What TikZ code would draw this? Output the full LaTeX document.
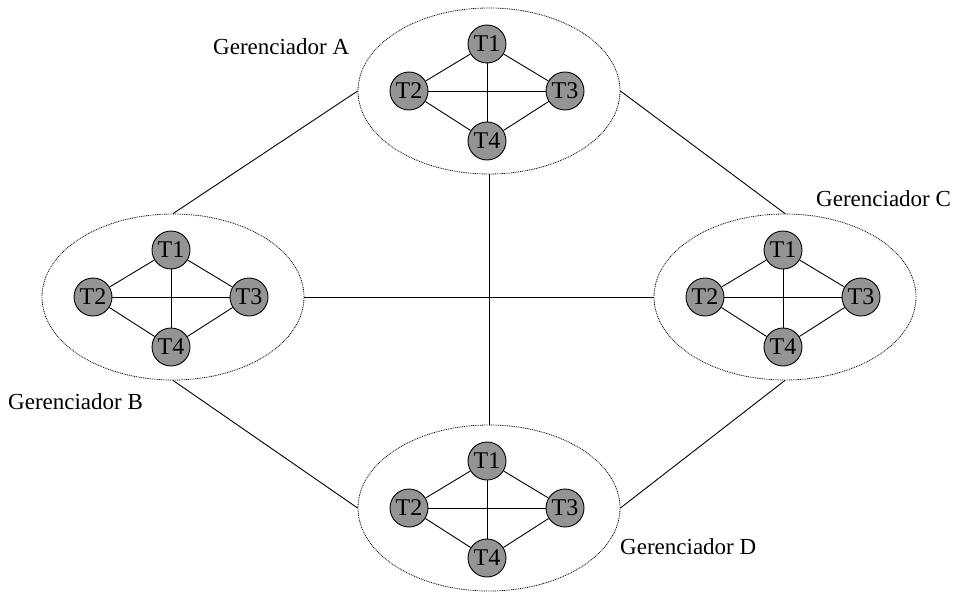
\documentclass[tikz,border=0pt]{standalone}
\usepackage{fontspec}
\setmainfont{Liberation Serif}
\usetikzlibrary{shapes.geometric,calc}
\tikzset{
  group/.style={ellipse, draw, dash pattern=on 0.9pt off 0.9pt, line width=0.8pt, minimum width=262pt, minimum height=166pt, inner sep=0pt},
  task/.style={circle, draw, line width=0.9pt, fill=black!42, minimum size=38pt, inner sep=0pt, font=\fontsize{24}{24}\selectfont},
  link/.style={line width=0.9pt},
  lbl/.style={font=\fontsize{23}{23}\selectfont, inner sep=0pt}
}
\newcommand\mycluster[3]{%
  \node[group] (#1) at (#2,#3) {};
  \node[task] (#1t1) at ($(#2,#3)+(-2,-47)$) {T1};
  \node[task] (#1t2) at ($(#2,#3)+(-80,0)$) {T2};
  \node[task] (#1t3) at ($(#2,#3)+(76,0)$) {T3};
  \node[task] (#1t4) at ($(#2,#3)+(-2,50)$) {T4};
  \draw[link] (#1t1) -- (#1t2);
  \draw[link] (#1t1) -- (#1t3);
  \draw[link] (#1t2) -- (#1t3);
  \draw[link] (#1t1) -- (#1t4);
  \draw[link] (#1t2) -- (#1t4);
  \draw[link] (#1t3) -- (#1t4);
}
\begin{document}
\begin{tikzpicture}[x=1pt,y=-1pt]
\useasboundingbox (0,0) rectangle (957,591);
\mycluster{A}{489}{91}
\mycluster{B}{173}{297}
\mycluster{C}{785}{297}
\mycluster{D}{489}{508}
\draw[link] (A.west) -- (B.north);
\draw[link] (A.east) -- (C.north);
\draw[link] (A.south) -- (D.north);
\draw[link] (B.east) -- (C.west);
\draw[link] (B.south) -- (D.west);
\draw[link] (C.south) -- (D.east);
\node[lbl, anchor=west] (la) at (213,47) {Gerenciador A};
\node[lbl, anchor=west] (lc) at (816,199) {Gerenciador C};
\node[lbl, anchor=west] (lb) at (8,402) {Gerenciador B};
\node[lbl, anchor=west] (ld) at (620,547) {Gerenciador D};
\end{tikzpicture}
\end{document}
